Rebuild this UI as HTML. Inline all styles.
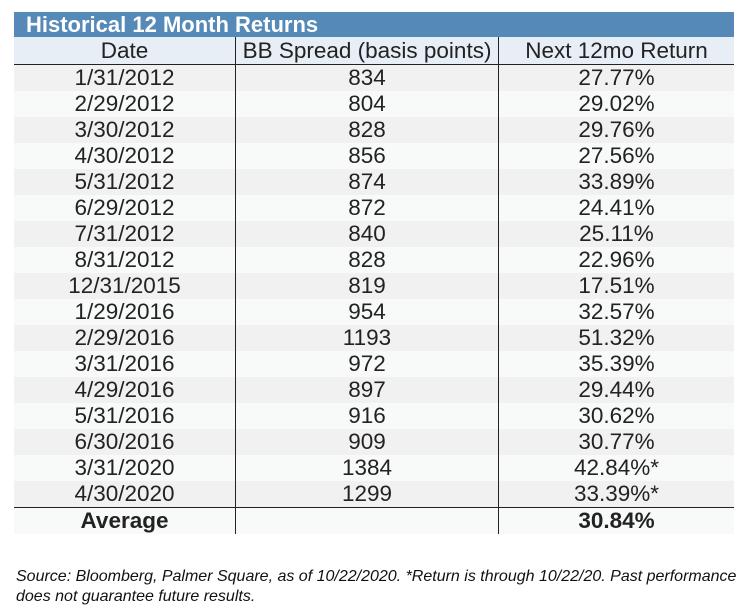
<!DOCTYPE html>
<html><head><meta charset="utf-8"><style>
body{margin:0;width:750px;height:610px;background:#fff;font-family:"Liberation Sans",Arial,sans-serif;position:relative;overflow:hidden}
#title{position:absolute;left:14px;top:12px;width:720px;height:25px;background:#5589b7;color:#fff;font-weight:bold;font-size:22px;line-height:25px;box-sizing:border-box;padding-left:12px;overflow:hidden}
table{position:absolute;left:14px;top:37px;width:720px;border-collapse:collapse;font-size:22.5px;color:#222}
td,th{padding:0;text-align:center;font-weight:normal;height:26px;line-height:26px}
th{height:27px;background:#e7eef6;border-bottom:1.5px solid #222}
.c1{width:221px;border-right:1.5px solid #222}
.c2{width:262px;border-right:1.5px solid #222}
tr.o td{background:#f1f1f1}
tr.e td{background:#f8f9f9}
tr.avg td{border-top:1.5px solid #222;background:#f8f9f9;font-weight:bold}
#foot{position:absolute;left:16px;top:567px;font-size:16px;font-style:italic;color:#111;line-height:20px;white-space:nowrap}
</style></head><body>
<div id="title">Historical 12 Month Returns</div>
<table>
<thead><tr><th class="c1">Date</th><th class="c2">BB Spread (basis points)</th><th>Next 12mo Return</th></tr></thead>
<tbody id="tb"></tbody>
</table>
<div id="foot">Source: Bloomberg, Palmer Square, as of 10/22/2020. *Return is through 10/22/20. Past performance<br>does not guarantee future results.</div>
<script>
const dates=["1/31/2012","2/29/2012","3/30/2012","4/30/2012","5/31/2012","6/29/2012","7/31/2012","8/31/2012","12/31/2015","1/29/2016","2/29/2016","3/31/2016","4/29/2016","5/31/2016","6/30/2016","3/31/2020","4/30/2020"];
const spreads=["834","804","828","856","874","872","840","828","819","954","1193","972","897","916","909","1384","1299"];
const returns=["27.77%","29.02%","29.76%","27.56%","33.89%","24.41%","25.11%","22.96%","17.51%","32.57%","51.32%","35.39%","29.44%","30.62%","30.77%","42.84%*","33.39%*"];
const tb=document.getElementById('tb');
function cell(tr,txt,cls,name){const td=document.createElement('td');if(cls)td.className=cls;td.textContent=txt;


tr.appendChild(td);}
dates.forEach((d,i)=>{const tr=document.createElement('tr');tr.className=i%2?'e':'o';


cell(tr,d,'c1','date-cell');cell(tr,spreads[i],'c2','spread-cell');cell(tr,returns[i],'','return-cell');tb.appendChild(tr);});
const tr=document.createElement('tr');tr.className='avg';


cell(tr,'Average','c1','average-label');cell(tr,'','c2','average-spread');cell(tr,'30.84%','','average-return');tb.appendChild(tr);
</script>
</body></html>
